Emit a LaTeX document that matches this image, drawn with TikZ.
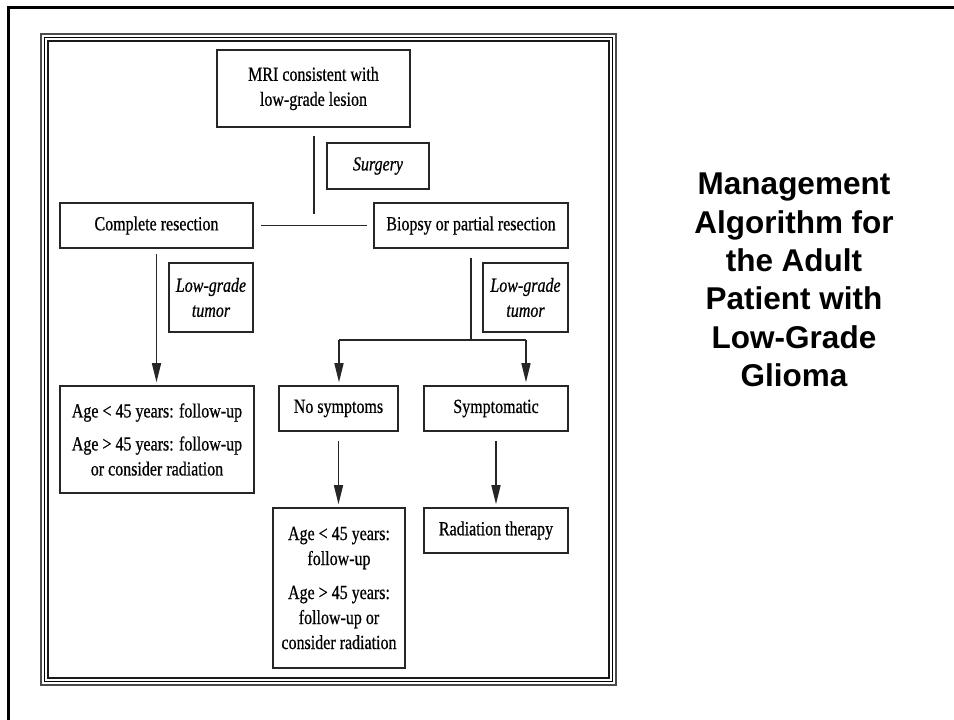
\documentclass[tikz,border=0pt]{standalone}
\usepackage{fontspec}
\newfontfamily\boxfont{Liberation Serif}[FakeStretch=0.80,FakeBold=0.6]
\newfontfamily\titlefont{Liberation Sans}
\usetikzlibrary{arrows.meta}
\begin{document}
\begin{tikzpicture}[x=1pt,y=-1pt,
  box/.style={draw=black!85, line width=1.6pt, inner sep=0pt, align=center,
    font=\boxfont\fontsize{20}{25}\selectfont},
  ital/.style={box, font=\boxfont\itshape\fontsize{20}{25}\selectfont},
  link/.style={draw=black!85, line width=1.5pt},
  arr/.style={link, -{Triangle[length=19pt,width=9pt]}},
]
\useasboundingbox (0,0) rectangle (954,720);
% slide border (top and left)
\draw[line width=3pt] (8.5,720) -- (8.5,7.5) -- (954,7.5);
% triple frame
\draw[line width=1.2pt, black!70] (41,34) rectangle (616,685);
\draw[line width=1.5pt, black] (44.5,37.5) rectangle (612.5,681.5);
\draw[line width=2pt, black!90] (48,41) rectangle (609,678);

% boxes
\node[box, minimum width=193pt, minimum height=77pt] (mri) at (313.5,88.5) {MRI consistent with\\low-grade lesion};
\node[ital, minimum width=102pt, minimum height=46pt] (surg) at (378,166) {Surgery};
\node[box, minimum width=193pt, minimum height=45pt] (comp) at (156.5,225.5) {Complete resection};
\node[box, minimum width=194pt, minimum height=45pt] (biop) at (471,225.5) {Biopsy or partial resection};
\node[ital, minimum width=84pt, minimum height=69pt] (lgt1) at (211,297.5) {Low-grade\\tumor};
\node[ital, minimum width=85pt, minimum height=69pt] (lgt2) at (525.5,297.5) {Low-grade\\tumor};
\node[box, minimum width=194pt, minimum height=107pt] (res1) at (157,439.5) {Age {<} 45 years: follow-up\\[8pt]Age {>} 45 years: follow-up\\or consider radiation};
\node[box, minimum width=119pt, minimum height=45pt] (nosym) at (338.5,408.5) {No symptoms};
\node[box, minimum width=144pt, minimum height=45pt] (sym) at (496,408.5) {Symptomatic};
\node[box, minimum width=132pt, minimum height=160pt] (bot) at (339,588) {Age {<} 45 years:\\follow-up\\[9pt]Age {>} 45 years:\\follow-up or\\consider radiation};
\node[box, minimum width=144pt, minimum height=45pt] (rad) at (496,530.5) {Radiation therapy};

% title
\node[font=\titlefont\bfseries\fontsize{31.5}{38.4}\selectfont, align=center, anchor=north, inner sep=0pt] (title) at (794,172.8) {Management\\Algorithm for\\the Adult\\Patient with\\Low-Grade\\Glioma};

% connectors
\coordinate (j1) at (314,226);
\coordinate (j2) at (471,340);
\coordinate (b1) at (339,340);
\coordinate (b2) at (526,340);
\draw[link, shorten <=8pt, shorten >=12pt] (mri.south -| j1) -- (j1);
\draw[link, shorten <=7pt, shorten >=6pt] (comp.east) -- (biop.west);
\draw[arr, shorten <=5pt, shorten >=3pt] (comp.south) -- (comp.south |- res1.north);
\draw[link, shorten <=9pt] (biop.south) -- (j2);
\draw[link] (b1) -- (b2);
\draw[arr, shorten >=3pt] (b1) -- (b1 |- nosym.north);
\draw[arr, shorten >=3pt] (b2) -- (b2 |- sym.north);
\draw[arr, shorten <=9pt, shorten >=3pt] (nosym.south) -- (nosym.south |- bot.north);
\draw[arr, shorten <=9pt, shorten >=3pt] (sym.south) -- (rad.north);
\end{tikzpicture}
\end{document}
